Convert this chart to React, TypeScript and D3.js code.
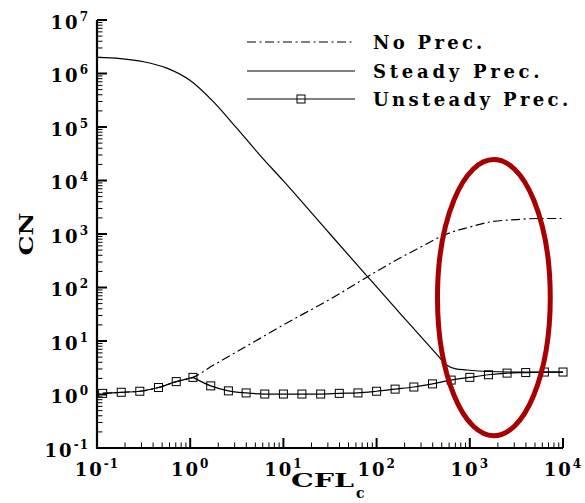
import React from 'react';
import * as d3 from 'd3';

const W = 585;
const H = 503;
const margin = { top: 20, right: 22, bottom: 55, left: 97 };
const FONT = '"DejaVu Serif", serif';

const seriesNames = ['No Prec.', 'Steady Prec.', 'Unsteady Prec.'];

// No preconditioning (dash-dot)
const noPrecCfl = [0.115, 0.182, 0.288, 0.457, 0.708, 1.07, 1.78, 3.16, 5.62, 10, 31.6, 100, 178, 316, 447, 631, 1000, 1585, 3162, 5623, 10000];
const noPrecCn = [1.05, 1.1, 1.15, 1.35, 1.74, 2.09, 3.55, 6.31, 11.2, 20, 60.3, 200, 355, 603, 832, 1072, 1349, 1660, 1862, 1950, 1950];

// Steady preconditioning (solid)
const steadyCfl = [0.1, 0.178, 0.316, 0.562, 1, 1.78, 3.16, 5.62, 10, 31.6, 79.4, 200, 447, 562, 708, 912, 1514, 3162, 10000];
const steadyCn = [2.0e6, 1.9e6, 1.66e6, 1.26e6, 7.4e5, 2.95e5, 9.5e4, 2.95e4, 9800, 1000, 162, 26.3, 5.5, 3.55, 3.02, 2.88, 2.69, 2.63, 2.63];

// Unsteady preconditioning (solid + square markers)
const unsteadyCfl = [0.115, 0.182, 0.288, 0.457, 0.708, 1.07, 1.66, 2.57, 3.98, 6.31, 10, 15.8, 25.1, 39.8, 63.1, 100, 158, 251, 398, 631, 1000, 1585, 2512, 3981, 6310, 10000];
const unsteadyCn = [1.05, 1.1, 1.15, 1.35, 1.74, 2.09, 1.45, 1.17, 1.07, 1.02, 1.02, 1.02, 1.02, 1.05, 1.07, 1.15, 1.26, 1.38, 1.58, 1.86, 2.09, 2.34, 2.51, 2.57, 2.63, 2.63];

const xTickExponents = ['-1', '0', '1', '2', '3', '4'];
const yTickExponents = ['-1', '0', '1', '2', '3', '4', '5', '6', '7'];

// highlighted region (red ellipse), bounds in data units
const highlightCfl = [450, 7300];
const highlightCn = [0.17, 24700];

type Pt = [number, number];

export default function App() {
  const x = d3.scaleLog().domain([0.1, 1e4]).range([margin.left, W - margin.right]);
  const y = d3.scaleLog().domain([0.1, 1e7]).range([H - margin.bottom, margin.top]);

  const line = d3.line<Pt>()
    .x((d) => x(d[0]))
    .y((d) => y(d[1]))
    .curve(d3.curveMonotoneX);

  const noPrec: Pt[] = noPrecCfl.map((c, i) => [c, noPrecCn[i]]);
  const steady: Pt[] = steadyCfl.map((c, i) => [c, steadyCn[i]]);
  const unsteady: Pt[] = unsteadyCfl.map((c, i) => [c, unsteadyCn[i]]);
  // peak at CFL~1 is a kink, draw both sides separately
  const unsteadyPath = line(unsteady.slice(0, 6)) + line(unsteady.slice(5));

  const isMajor = (t: number) => Math.abs(Math.log10(t) - Math.round(Math.log10(t))) < 1e-9;
  const x0 = margin.left;
  const yB = H - margin.bottom;

  const ex1 = x(highlightCfl[0]);
  const ex2 = x(highlightCfl[1]);
  const ey1 = y(highlightCn[1]);
  const ey2 = y(highlightCn[0]);

  const legendRows = [42, 71, 99];
  const legendX1 = 247;
  const legendX2 = 355;

  return (
    <svg width={W} height={H} style={{ position: 'absolute', left: 0, top: 0, background: '#fff', fontFamily: FONT }}
      fontWeight="bold">
      <rect width={W} height={H} fill="#fff" />

      {/* ticks */}
      {x.ticks().map((t, i) => (
        <line key={'xt' + i} x1={x(t)} x2={x(t)} y1={yB} y2={yB - (isMajor(t) ? 10 : 5.5)}
          stroke="#000" strokeWidth={isMajor(t) ? 2 : 1} />
      ))}
      {y.ticks().map((t, i) => (
        <line key={'yt' + i} x1={x0} x2={x0 + (isMajor(t) ? 10 : 5.5)} y1={y(t)} y2={y(t)}
          stroke="#000" strokeWidth={isMajor(t) ? 2 : 1} />
      ))}

      {/* axes */}
      <line x1={x0} x2={x0} y1={margin.top} y2={yB + 1} stroke="#000" strokeWidth={2.2} />
      <line x1={x0 - 1} x2={W - margin.right} y1={yB} y2={yB} stroke="#000" strokeWidth={2.2} />

      {/* tick labels */}
      {xTickExponents.map((e) => (
        <text key={'xl' + e} x={x(Math.pow(10, +e))} y={yB + 28} textAnchor="middle" fontSize={18} letterSpacing={2}>
          10<tspan fontSize={12} dy={-8} letterSpacing={1}>{e}</tspan>
        </text>
      ))}
      {yTickExponents.map((e) => (
        <text key={'yl' + e} x={89} y={y(Math.pow(10, +e)) + 8.5} textAnchor="end" fontSize={18} letterSpacing={2}>
          10<tspan fontSize={12} dy={-8} letterSpacing={1}>{e}</tspan>
        </text>
      ))}

      {/* axis titles */}
      <text transform={`translate(33, ${(margin.top + yB) / 2}) rotate(-90)`} textAnchor="middle"
        fontSize={19} textLength={43} lengthAdjust="spacingAndGlyphs">CN</text>
      <text x={291} y={487} fontSize={19} textLength={63} lengthAdjust="spacingAndGlyphs">CFL</text>
      <text x={356} y={498} fontSize={14}>c</text>

      {/* curves */}
      <path d={line(noPrec) || ''} fill="none" stroke="#000" strokeWidth={1.2} strokeDasharray="9 3.5 2 3.5" />
      <path d={line(steady) || ''} fill="none" stroke="#000" strokeWidth={1.2} />
      <path d={unsteadyPath} fill="none" stroke="#000" strokeWidth={1.2} />
      {unsteady.map((d, i) => (
        <rect key={'m' + i} x={x(d[0]) - 4} y={y(d[1]) - 4} width={8} height={8}
          fill="none" stroke="#000" strokeWidth={1} />
      ))}

      {/* legend */}
      {seriesNames.map((name, i) => (
        <g key={name}>
          <line x1={legendX1} x2={legendX2} y1={legendRows[i]} y2={legendRows[i]} stroke="#000" strokeWidth={1.2}
            strokeDasharray={i === 0 ? '9 3.5 2 3.5' : undefined} />
          {i === 2 && (
            <rect x={(legendX1 + legendX2) / 2 - 4} y={legendRows[i] - 4} width={8} height={8}
              fill="none" stroke="#000" strokeWidth={1} />
          )}
          <text x={373} y={legendRows[i] + 6.5} fontSize={18} textLength={name.length * 14.3 - 5}
            lengthAdjust="spacing">{name}</text>
        </g>
      ))}

      {/* highlight ellipse */}
      <ellipse cx={(ex1 + ex2) / 2} cy={(ey1 + ey2) / 2} rx={(ex2 - ex1) / 2} ry={(ey2 - ey1) / 2}
        fill="none" stroke="#a80000" strokeWidth={5} />
    </svg>
  );
}
